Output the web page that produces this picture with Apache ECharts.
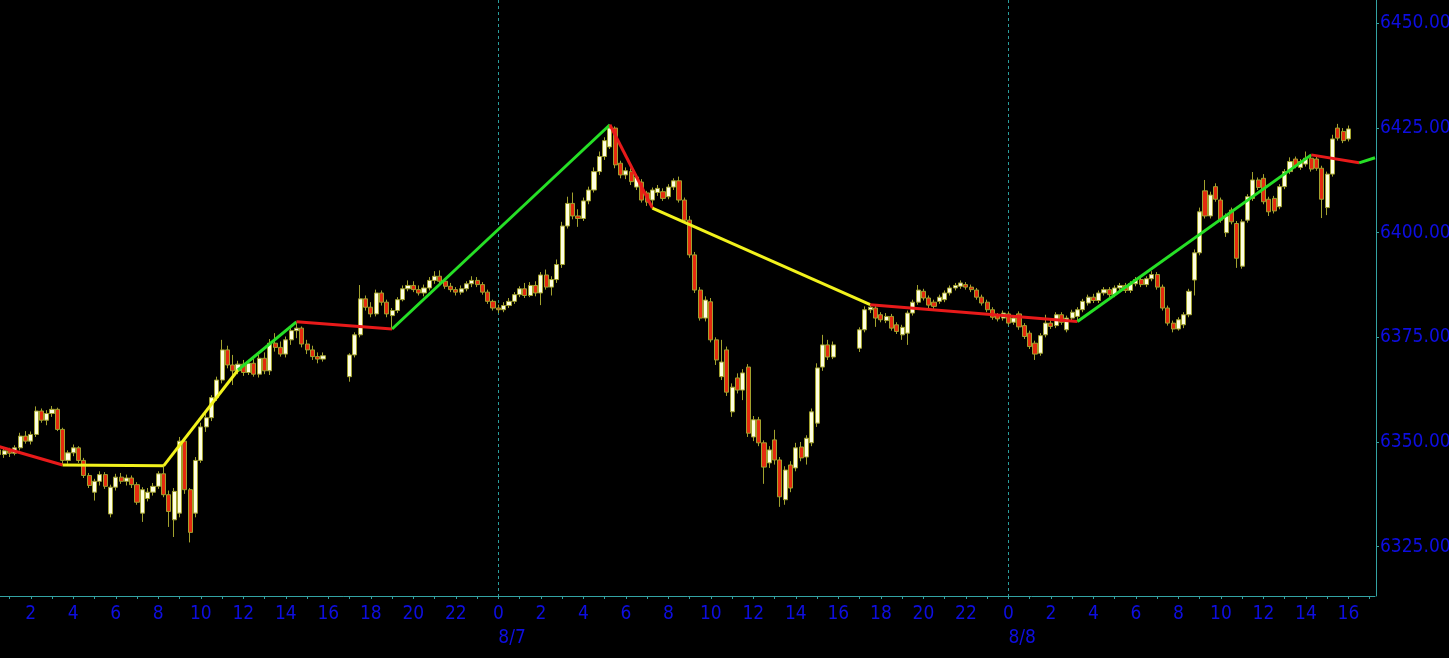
<!DOCTYPE html>
<html>
<head>
<meta charset="utf-8">
<script src="https://cdn.jsdelivr.net/npm/echarts@6/dist/echarts.min.js"></script>
<style>
html,body{margin:0;padding:0;background:#000;}
#chart{width:1449px;height:658px;}
</style>
</head>
<body>
<div id="chart"></div>
<script>
// ---- time axis: 15-minute bars, first slot 8/6 00:30, last slot 8/8 17:15
const startDay = 6, startMinute = 30, slotCount = 260, slotMinutes = 15;

// ---- candle sessions: [open, close, low, high]
const session1Start = '8/6 00:30';
const session1 = [
[6348.1,6347.0,6343.2,6349.3],[6347.0,6347.9,6346.2,6348.5],[6347.9,6347.3,6346.4,6348.6],[6347.3,6348.6,6346.8,6349.2],
[6348.6,6351.4,6348.0,6352.2],[6351.4,6350.2,6349.6,6352.6],[6350.2,6351.8,6349.4,6352.5],[6351.8,6357.4,6351.2,6358.5],
[6357.4,6355.2,6354.6,6358.0],[6355.2,6356.8,6354.0,6357.6],[6356.8,6357.8,6356.0,6358.6],[6357.8,6353.0,6352.6,6358.2],
[6353.0,6345.6,6344.5,6353.4],[6345.6,6347.4,6344.8,6348.0],[6347.4,6348.6,6346.6,6349.4],[6348.6,6345.6,6345.0,6349.0],
[6345.6,6342.0,6341.4,6346.2],[6342.0,6339.6,6339.0,6342.6],[6338.0,6340.6,6336.0,6341.2],[6340.6,6342.2,6339.6,6343.0],
[6342.2,6339.4,6338.8,6342.8],[6332.8,6339.2,6332.0,6339.8],[6339.2,6341.6,6338.4,6342.4],[6341.6,6340.6,6340.0,6342.6],
[6340.6,6341.4,6339.6,6342.2],[6341.4,6339.8,6339.0,6342.0],[6339.8,6335.6,6335.0,6340.4],[6333.0,6338.6,6330.9,6339.2],
[6336.5,6338.0,6335.8,6339.0],[6338.0,6339.4,6337.2,6340.2],[6339.4,6342.4,6338.8,6343.0],[6342.4,6337.4,6336.8,6344.3],
[6337.4,6333.4,6329.7,6338.4],[6331.4,6338.2,6327.3,6339.0],[6333.0,6350.2,6332.0,6351.2],[6350.2,6338.6,6337.6,6350.6],
[6338.6,6328.4,6326.0,6339.0],[6333.0,6345.6,6332.0,6346.4],[6345.6,6353.6,6345.0,6354.6],[6353.6,6355.8,6352.4,6357.0],
[6355.8,6360.6,6355.0,6361.2],[6360.6,6364.8,6359.8,6365.6],[6364.8,6372.0,6364.0,6374.4],[6372.0,6368.4,6367.6,6373.0],
[6368.4,6367.0,6363.6,6370.8],[6367.0,6368.6,6366.2,6369.4],[6368.6,6366.6,6365.8,6369.6],[6366.6,6368.8,6366.0,6369.6],
[6368.8,6366.2,6365.6,6369.8],[6366.2,6370.0,6365.4,6370.8],[6370.0,6367.0,6366.2,6371.4],[6367.0,6373.6,6366.0,6374.6],
[6373.6,6372.6,6371.6,6376.0],[6372.6,6371.0,6370.4,6374.0],[6371.0,6374.4,6370.2,6375.2],[6374.4,6376.6,6373.2,6377.4],
[6376.6,6377.2,6374.8,6378.7],[6377.2,6373.4,6372.6,6377.6],[6373.4,6372.0,6371.0,6374.4],[6372.0,6370.4,6369.6,6373.0],
[6370.4,6369.8,6368.8,6371.4],[6369.8,6370.6,6369.2,6371.4]
];
const session2Start = '8/6 17:00';
const session2 = [
[6365.6,6370.8,6364.4,6371.2],[6370.8,6375.6,6370.2,6376.2],[6375.6,6384.2,6375.0,6387.5],[6384.2,6382.2,6381.4,6385.0],
[6382.2,6380.6,6379.8,6383.4],[6380.6,6385.6,6380.0,6386.4],[6385.6,6383.4,6382.6,6386.2],[6383.4,6380.6,6379.8,6384.0],
[6380.2,6381.4,6377.0,6382.0],[6381.4,6384.0,6380.8,6384.6],[6384.0,6386.6,6383.6,6387.4],[6386.6,6387.4,6386.0,6388.6],
[6387.4,6386.4,6385.8,6388.4],[6386.4,6385.6,6385.0,6387.4],[6385.6,6386.8,6384.8,6387.6],[6386.8,6388.6,6386.2,6389.4],
[6388.6,6389.6,6387.8,6390.8],[6389.6,6388.4,6387.6,6391.0],[6388.4,6387.2,6386.6,6389.0],[6387.2,6386.4,6385.8,6388.0],
[6386.4,6385.8,6385.0,6387.0],[6385.8,6386.6,6385.2,6387.4],[6386.6,6387.8,6386.0,6388.4],[6387.8,6388.6,6387.0,6389.6],
[6388.6,6387.6,6387.0,6389.4],[6387.6,6385.8,6385.2,6388.2],[6385.8,6383.6,6383.0,6386.4],[6383.6,6382.0,6381.4,6384.0]
];
const session3Start = '8/7 00:00';
const session3 = [
[6382.0,6381.6,6380.8,6382.8],[6381.6,6382.6,6381.0,6383.4],[6382.6,6383.6,6382.0,6384.4],[6383.6,6385.2,6383.0,6385.8],
[6385.2,6386.6,6384.6,6387.2],[6386.6,6385.0,6384.4,6388.0],[6385.0,6387.4,6384.6,6388.2],[6387.4,6385.6,6384.8,6388.4],
[6385.6,6389.9,6382.7,6390.6],[6389.9,6387.0,6386.4,6391.2],[6387.0,6388.8,6385.0,6389.6],[6388.8,6392.4,6388.0,6393.6],
[6392.4,6401.6,6391.6,6402.6],[6401.6,6407.0,6401.0,6408.6],[6407.0,6404.0,6403.2,6409.6],[6404.0,6403.4,6401.4,6405.6],
[6403.4,6407.6,6402.8,6408.4],[6407.6,6410.2,6406.8,6411.0],[6410.2,6414.6,6409.6,6415.6],[6414.6,6418.2,6413.8,6419.4],
[6418.2,6422.0,6417.4,6422.8],[6420.5,6425.0,6420.0,6425.8],[6425.0,6416.2,6415.4,6425.4],[6416.6,6413.8,6413.0,6417.2],
[6413.8,6414.8,6412.8,6415.6],[6414.6,6412.2,6411.4,6415.4],[6410.9,6413.3,6410.2,6414.0],[6412.1,6407.8,6407.2,6412.8],
[6409.5,6407.3,6406.4,6410.0],[6407.8,6410.2,6405.9,6410.8],[6409.6,6410.6,6408.8,6411.4],[6409.8,6408.2,6407.6,6410.6],
[6408.6,6410.9,6408.0,6411.6],[6410.9,6412.4,6410.2,6413.0],[6412.4,6407.8,6407.2,6413.4],[6407.8,6403.0,6402.4,6408.4],
[6403.0,6394.7,6394.0,6404.0],[6394.7,6386.3,6385.6,6395.4],[6386.3,6379.6,6379.0,6387.0],[6379.6,6383.9,6378.8,6384.8],
[6383.5,6374.4,6373.8,6384.4],[6374.4,6369.6,6368.4,6375.0],[6365.6,6369.1,6364.8,6374.4],[6372.0,6361.9,6361.0,6372.8],
[6357.2,6363.1,6356.0,6364.0],[6365.3,6362.4,6361.6,6366.4],[6362.4,6366.5,6360.0,6367.4],[6367.9,6352.1,6351.2,6368.6],
[6351.2,6355.3,6350.2,6356.2],[6355.3,6349.8,6349.0,6356.0],[6349.8,6344.0,6340.0,6350.4],[6345.0,6348.1,6343.8,6349.0],
[6350.5,6345.7,6344.6,6352.9],[6345.7,6336.9,6334.5,6346.4],[6336.2,6343.3,6335.0,6344.2],[6344.5,6339.0,6338.0,6345.4],
[6343.8,6348.6,6343.0,6349.8],[6348.8,6346.2,6345.4,6350.0],[6346.4,6350.9,6344.6,6351.6],[6349.8,6357.2,6349.0,6358.0],
[6354.5,6367.7,6353.6,6368.8],[6367.9,6373.2,6367.0,6375.6],[6373.2,6370.3,6369.6,6374.4],[6370.3,6373.2,6369.8,6374.0]
];
const session4Start = '8/7 17:00';
const session4 = [
[6372.4,6376.8,6371.5,6377.4],[6376.8,6381.6,6376.2,6382.4],[6381.6,6382.2,6380.8,6382.8],[6382.0,6379.6,6377.5,6382.6],
[6380.4,6379.2,6378.6,6381.0],[6379.0,6380.0,6378.4,6380.8],[6380.0,6377.2,6376.6,6380.6],[6378.0,6376.4,6375.8,6378.6],
[6375.6,6377.4,6374.4,6378.0],[6376.0,6380.8,6373.2,6381.4],[6380.8,6383.4,6380.2,6384.0],[6383.4,6386.3,6382.8,6387.5],
[6386.0,6384.4,6383.8,6386.6],[6384.4,6382.7,6382.0,6385.0],[6383.4,6382.4,6381.8,6384.0],[6383.6,6384.6,6383.0,6385.2],
[6384.0,6385.6,6383.4,6386.2],[6385.6,6386.8,6385.0,6387.4],[6386.8,6387.4,6386.2,6388.0],[6387.2,6388.0,6386.6,6388.6],
[6387.6,6387.0,6386.4,6388.2],[6387.0,6386.4,6385.8,6387.6],[6386.3,6384.6,6384.0,6386.8],[6384.6,6383.2,6382.6,6385.2],
[6383.4,6381.6,6381.0,6384.0],[6381.6,6379.8,6379.2,6382.2],[6380.2,6379.4,6378.8,6380.8],[6379.6,6380.8,6379.0,6381.4]
];
const session5Start = '8/8 00:00';
const session5 = [
[6380.6,6378.4,6377.8,6381.2],[6378.6,6379.6,6378.0,6380.2],[6380.6,6377.5,6376.8,6381.2],[6377.8,6375.2,6374.6,6378.4],
[6376.0,6372.8,6372.2,6376.6],[6373.6,6371.0,6369.6,6374.2],[6371.2,6375.4,6370.6,6376.0],[6375.6,6378.4,6375.0,6380.4],
[6378.4,6377.6,6377.0,6379.2],[6377.8,6380.4,6377.2,6381.0],[6380.4,6378.6,6378.0,6381.0],[6376.8,6379.6,6376.2,6380.2],
[6379.6,6381.0,6379.0,6381.6],[6380.0,6381.6,6378.8,6382.2],[6381.6,6383.6,6381.0,6384.2],[6383.2,6384.6,6382.6,6385.2],
[6384.6,6383.8,6383.2,6385.4],[6383.8,6385.6,6383.2,6386.2],[6385.6,6386.4,6385.0,6387.0],[6386.4,6385.2,6384.6,6387.0],
[6385.2,6386.8,6384.6,6387.4],[6386.8,6387.4,6386.2,6388.0],[6387.4,6386.2,6385.6,6388.0],[6386.2,6387.8,6385.6,6388.4],
[6387.8,6388.8,6387.2,6389.4],[6388.8,6387.6,6387.0,6389.4],[6387.6,6389.0,6387.0,6389.6],[6389.0,6390.0,6388.4,6390.8],
[6390.0,6387.0,6386.4,6390.6],[6387.0,6382.0,6381.4,6387.6],[6382.0,6378.4,6377.8,6382.6],[6378.4,6377.0,6376.2,6379.0],
[6377.0,6379.2,6376.6,6379.8],[6378.0,6380.4,6377.2,6381.0],[6380.4,6386.0,6379.8,6386.6],[6388.7,6395.2,6385.0,6396.0],
[6395.2,6405.0,6394.6,6406.0],[6410.0,6404.0,6403.4,6412.6],[6404.0,6409.0,6403.4,6409.8],[6411.0,6408.0,6407.4,6411.8],
[6407.8,6403.0,6402.4,6408.4],[6400.0,6404.0,6399.0,6404.6],[6405.4,6402.6,6402.0,6406.0],[6402.2,6393.9,6391.6,6402.8],
[6392.0,6402.6,6391.4,6403.2],[6403.0,6408.6,6402.4,6409.2],[6408.2,6412.6,6407.6,6414.5],[6412.6,6410.8,6410.2,6413.2],
[6413.0,6407.4,6406.8,6414.0],[6408.0,6405.0,6404.0,6408.6],[6408.2,6405.2,6404.6,6408.8],[6406.2,6411.0,6405.6,6411.6],
[6411.0,6414.6,6410.4,6415.2],[6414.6,6417.0,6414.0,6418.0],[6417.6,6416.0,6415.4,6418.2],[6415.6,6417.0,6415.0,6417.6],
[6416.4,6417.8,6415.8,6419.4],[6417.8,6415.2,6414.6,6418.6],[6417.6,6415.4,6414.8,6418.2],[6415.4,6408.0,6403.5,6416.0],
[6406.0,6414.0,6404.2,6414.6],[6414.0,6422.4,6413.4,6423.4],[6425.0,6422.6,6422.0,6426.0],[6424.2,6422.0,6421.4,6425.0],
[6422.4,6424.8,6421.8,6425.6]
];

// ---- zigzag pivots and segment colours
const zigzagTimes  = ['8/6 00:30','8/6 03:30','8/6 08:15','8/6 11:45','8/6 14:30','8/6 19:00','8/7 05:15','8/7 07:15','8/7 17:30','8/8 03:15','8/8 14:15','8/8 16:30','8/8 17:15'];
const zigzagValues = [6348.9, 6344.5, 6344.3, 6367.2, 6378.7, 6377.0, 6425.8, 6405.9, 6382.8, 6378.8, 6418.6, 6416.7, 6417.9];
const zigzagColors = ['#e81a1a','#f2f21c','#f2f21c','#26e026','#e81a1a','#26e026','#e81a1a','#f2f21c','#e81a1a','#26e026','#e81a1a','#26e026'];

// ---- y ticks
const priceTicks = [6325, 6350, 6375, 6400, 6425, 6450];

// ---------- build ----------
function pad(n){ return (n < 10 ? '0' : '') + n; }
const categories = [];
for (let k = 0; k < slotCount; k++) {
  const m = startMinute + k * slotMinutes;
  const day = startDay + Math.floor(m / 1440);
  const mm = m % 1440;
  categories.push('8/' + day + ' ' + pad(Math.floor(mm / 60)) + ':' + pad(mm % 60));
}
const candleData = categories.map(() => '-');
[[session1Start, session1],[session2Start, session2],[session3Start, session3],[session4Start, session4],[session5Start, session5]]
  .forEach(([st, arr]) => {
    const s = categories.indexOf(st);
    arr.forEach((c, j) => { candleData[s + j] = c; });
  });

const zigSeries = zigzagColors.map((col, k) => ({
  type: 'line',
  xAxisIndex: 0, yAxisIndex: 0,
  data: [[zigzagTimes[k], zigzagValues[k]], [zigzagTimes[k+1], zigzagValues[k+1]]],
  symbol: 'none',
  lineStyle: { color: col, width: 3 },
  z: 5,
  silent: true,
  animation: false
}));

const FONT = "'DejaVu Sans Condensed','DejaVu Sans',sans-serif";
const LABEL_BLUE = '#0e0ee0';
const TEAL = '#33a3a3';

const chart = echarts.init(document.getElementById('chart'), null, { renderer: 'canvas' });
chart.setOption({
  backgroundColor: '#000000',
  animation: false,
  grid: { left: -1.1, right: 74, top: 0, bottom: 62, containLabel: false, outerBoundsMode: 'none' },
  xAxis: [{
    type: 'category',
    data: categories,
    boundaryGap: false,
    axisLine: { show: true, lineStyle: { color: TEAL, width: 1 } },
    axisTick: { show: true, length: 3, lineStyle: { color: TEAL },
      interval: (i, v) => v.slice(-2) === '00' },
    axisLabel: {
      interval: (i, v) => v.slice(-2) === '00' && parseInt(v.slice(-5, -3), 10) % 2 === 0,
      formatter: v => String(parseInt(v.slice(-5, -3), 10)),
      color: LABEL_BLUE, fontFamily: FONT, fontSize: 19, lineHeight: 19, margin: 9
    },
    splitLine: { show: true, interval: (i, v) => v.slice(-5) === '00:00',
      lineStyle: { color: '#2a9c9c', type: [3, 3], width: 1 } }
  }, {
    type: 'category',
    data: categories,
    boundaryGap: false,
    position: 'bottom',
    axisLine: { show: false },
    axisTick: { show: false },
    splitLine: { show: false },
    axisLabel: {
      interval: (i, v) => v.slice(-5) === '00:00',
      formatter: v => v.split(' ')[0],
      align: 'left',
      color: LABEL_BLUE, fontFamily: FONT, fontSize: 19, lineHeight: 19, margin: 33
    }
  }],
  yAxis: {
    type: 'value',
    position: 'right',
    offset: 1,
    min: 6313.2,
    max: 6455.6,
    axisLine: { show: true, lineStyle: { color: TEAL, width: 1 } },
    axisTick: { show: true, length: 3, customValues: priceTicks, lineStyle: { color: TEAL } },
    axisLabel: { customValues: priceTicks, formatter: v => v.toFixed(3),
      color: LABEL_BLUE, fontFamily: FONT, fontSize: 19, margin: 4 },
    splitLine: { show: false }
  },
  series: [{
    type: 'candlestick',
    xAxisIndex: 0, yAxisIndex: 0,
    data: candleData,
    barWidth: 4.6,
    itemStyle: {
      color: '#ffffe2', color0: '#e42a0e',
      borderColor: '#a2a22e', borderColor0: '#a2a22e', borderWidth: 1
    },
    z: 3,
    silent: true
  }].concat(zigSeries)
});
</script>
</body>
</html>
